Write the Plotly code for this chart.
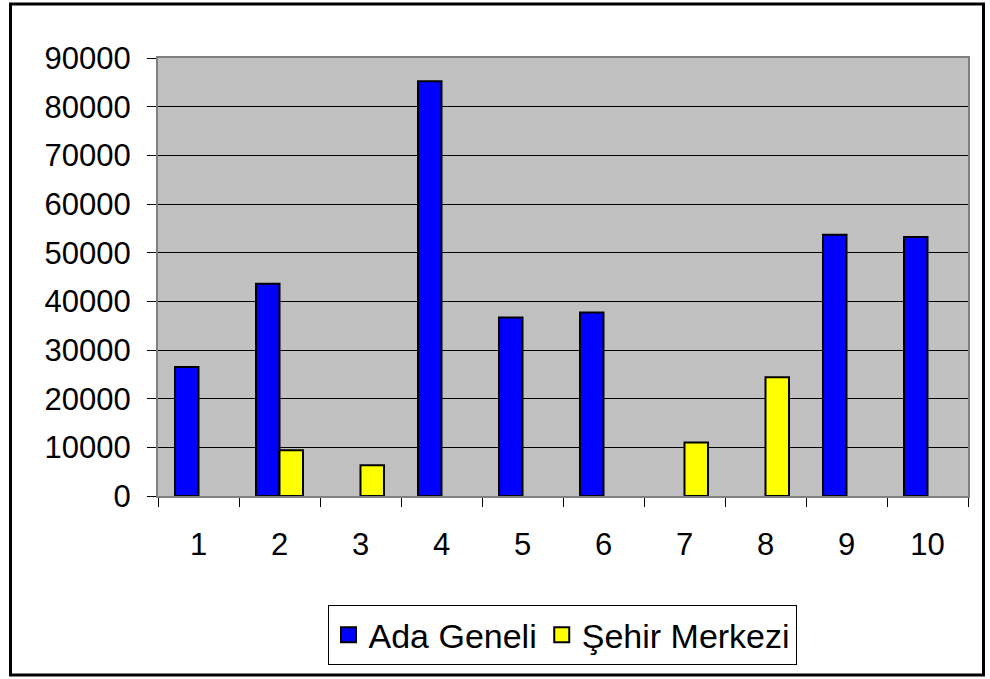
import plotly.graph_objects as go

categories = ["1", "2", "3", "4", "5", "6", "7", "8", "9", "10"]
ada_geneli = [26500, 43600, None, 85200, 36700, 37700, None, None, 53700, 53200]
sehir_merkezi = [None, 9400, 6300, None, None, None, 11000, 24400, None, None]
y_ticks = [0, 10000, 20000, 30000, 40000, 50000, 60000, 70000, 80000, 90000]
series_names = ["Ada Geneli", "Şehir Merkezi"]
series_colors = ["#0000FF", "#FFFF00"]

W, H = 990, 679
L, R, T, B = 158, 22, 57.5, 182.5
pw, ph = W - L - R, H - T - B

def px_x(x):
    return (x - L) / pw

def px_y(y):
    return (H - B - y) / ph

fig = go.Figure()
for name, vals, col in zip(series_names, [ada_geneli, sehir_merkezi], series_colors):
    fig.add_trace(go.Bar(x=categories, y=vals, name=name, showlegend=False,
                         legendgroup=name,
                         marker=dict(color=col, line=dict(color="black", width=2))))
# legend entries with larger square swatches
for name, col in zip(series_names, series_colors):
    fig.add_trace(go.Scatter(x=[None], y=[None], mode="markers", name=name,
                             legendgroup=name,
                             marker=dict(symbol="square", size=15, color=col,
                                         line=dict(color="black", width=2))))

font = "Liberation Sans, Arial, sans-serif"
fig.update_layout(
    width=W, height=H,
    margin=dict(l=L, r=R, t=T, b=B),
    paper_bgcolor="white",
    plot_bgcolor="#C0C0C0",
    barmode="group",
    bargap=0.42,
    bargroupgap=0,
    font=dict(family=font, size=31, color="black"),
    showlegend=True,
    legend=dict(orientation="h", x=px_x(562), xanchor="center", y=px_y(606), yanchor="top",
                bgcolor="white", bordercolor="black", borderwidth=1,
                font=dict(family=font, size=34, color="black"),
                itemsizing="trace", itemwidth=30, traceorder="normal"),
    xaxis=dict(type="category", tickson="boundaries", ticks="outside", ticklen=9,
               tickcolor="black", tickwidth=1, showgrid=False,
               showline=True, linecolor="#808080", linewidth=2, mirror=True,
               ticklabelstandoff=20, tickfont=dict(size=31)),
    yaxis=dict(range=[0, 90000], tickvals=y_ticks, ticktext=[str(v) for v in y_ticks],
               ticks="outside", ticklen=9, tickcolor="black", tickwidth=1,
               showgrid=True, gridcolor="black", gridwidth=1, zeroline=False,
               showline=True, linecolor="#808080", linewidth=2, mirror=True,
               ticklabelstandoff=10, tickfont=dict(size=31)),
)

fig.add_shape(type="rect", xref="paper", yref="paper",
              x0=px_x(10.5), x1=px_x(983.5), y0=px_y(676), y1=px_y(3.5),
              line=dict(color="black", width=3), fillcolor="rgba(0,0,0,0)", layer="below")

fig.write_html("out.html", config={"displayModeBar": False},
               post_script="document.body.style.margin='0';")
